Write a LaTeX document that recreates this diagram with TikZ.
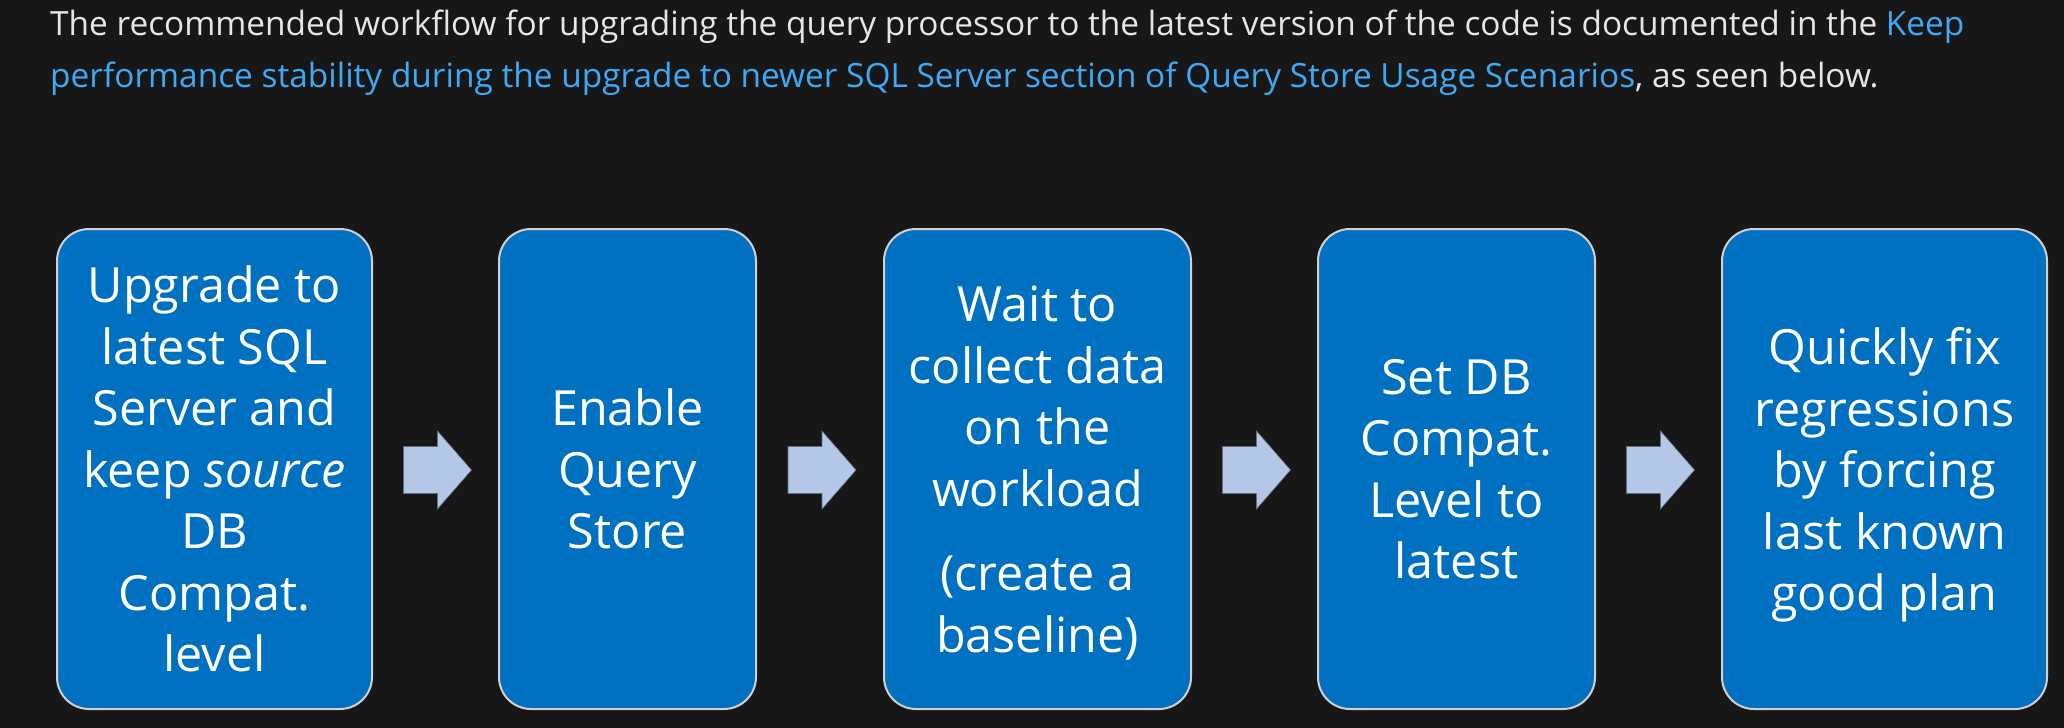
\documentclass[tikz,border=0pt]{standalone}
\usepackage{fontspec}
\setmainfont{Open Sans}
\usetikzlibrary{calc}
\definecolor{bg}{HTML}{171717}
\definecolor{fg}{HTML}{E6E6E6}
\definecolor{link}{HTML}{3FA9F5}
\definecolor{boxblue}{HTML}{0070C0}
\definecolor{arrowc}{HTML}{B4C7E7}
\definecolor{boxedge}{HTML}{D0D0D0}
\newcommand\flowarrow[1]{%
  \filldraw[flowarrow] ($(#1)+(-34,-23.5)$) -- ($(#1)+(0,-23.5)$) -- ($(#1)+(0,-39)$)
    -- ($(#1)+(34,0)$) -- ($(#1)+(0,39)$) -- ($(#1)+(0,23.5)$) -- ($(#1)+(-34,23.5)$) -- cycle;}
\begin{document}
\begin{tikzpicture}[x=1pt,y=-1pt,
  stepbox/.style={draw=boxedge, line width=2pt, fill=boxblue, rounded corners=32pt,
    minimum height=480pt, inner sep=0pt, text=white, align=center,
    font=\fontsize{48.5}{61.5}\selectfont, text depth=0pt},
  flowarrow/.style={fill=arrowc, draw=arrowc!55!black, line width=0.6pt},
  para/.style={anchor=base west, inner sep=0pt, text=fg, font=\fontsize{33.4}{52}\selectfont}
]
\fill[bg] (0,0) rectangle (2064,728);
\useasboundingbox (0,0) rectangle (2064,728);

\node[para] (l1) at (50,35.5) {The recommended workflow for upgrading the query processor to the latest version of the code is documented in the \textcolor{link}{Keep}};
\node[para] (l2) at (50,87) {\textcolor{link}{performance stability during the upgrade to newer SQL Server section of Query Store Usage Scenarios}, as seen below.};

\node[stepbox, minimum width=315pt] (b1) at (214.5,469) {Upgrade to\\latest SQL\\Server and\\keep \textit{source}\\DB\\Compat.\\level};
\node[stepbox, minimum width=257pt] (b2) at (627.5,469) {Enable\\Query\\Store};
\node[stepbox, minimum width=307pt] (b3) at (1037.5,469) {Wait to\\collect data\\on the\\workload\\[23pt](create a\\baseline)};
\node[stepbox, minimum width=277pt] (b4) at (1456.5,469) {Set DB\\Compat.\\Level to\\latest};
\node[stepbox, minimum width=325pt] (b5) at (1884.5,469) {Quickly fix\\regressions\\by forcing\\last known\\good plan};

\coordinate (a1) at ($(b1.east)!0.5!(b2.west)+(2,1)$);
\coordinate (a2) at ($(b2.east)!0.5!(b3.west)+(2,1)$);
\coordinate (a3) at ($(b3.east)!0.5!(b4.west)+(2,1)$);
\coordinate (a4) at ($(b4.east)!0.5!(b5.west)+(2,1)$);
\flowarrow{a1}
\flowarrow{a2}
\flowarrow{a3}
\flowarrow{a4}
\end{tikzpicture}
\end{document}
